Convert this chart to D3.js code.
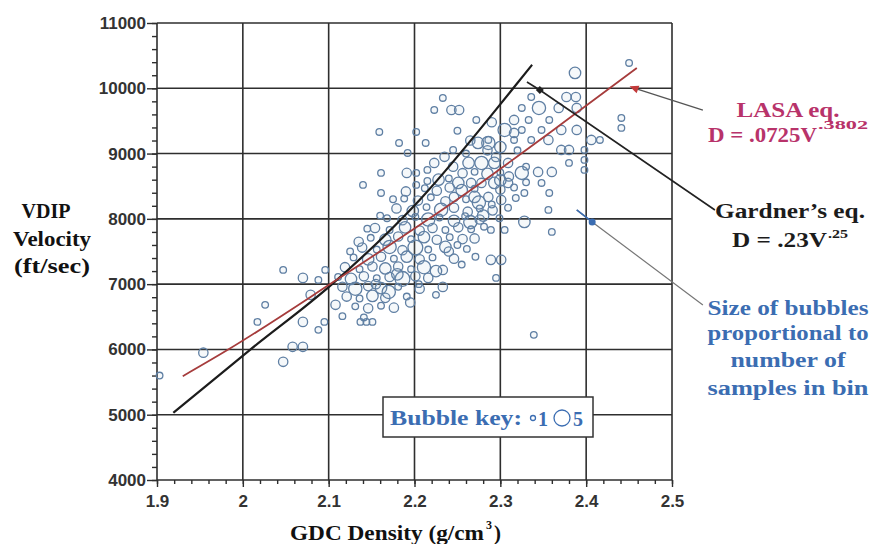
<!DOCTYPE html>
<html>
<head>
<meta charset="utf-8">
<script src="https://cdn.jsdelivr.net/npm/d3@7/dist/d3.min.js"></script>
<style>
  body { margin: 0; background: #fff; }
  svg { display: block; }
</style>
</head>
<body>
<div id="chart"></div>
<script>

// --- Axis ticks
var xTicks = [1.9, 2, 2.1, 2.2, 2.3, 2.4, 2.5];
var xTickLabels = ['1.9', '2', '2.1', '2.2', '2.3', '2.4', '2.5'];
var yTicks = [4000, 5000, 6000, 7000, 8000, 9000, 10000, 11000];
var yTickLabels = ['4000', '5000', '6000', '7000', '8000', '9000', '10000', '11000'];

// --- Fitted curves [density, velocity]
var gardnerLine = [[1.919, 5030], [2.008, 5990], [2.104, 7000], [2.206, 8290], [2.315, 10000], [2.337, 10360]];
var lasaLine = [[1.930, 5590], [1.982, 5990], [2.104, 7020], [2.261, 8400], [2.370, 9440], [2.459, 10310]];

// --- Leader lines of the notes [density, velocity]
var lasaLeader = [[2.456, 10004], [2.536, 9667]];
var gardnerLeader = [[2.331, 10096], [2.346, 9974], [2.550, 8136]];
var bubbleLeader = [[2.389, 8136], [2.407, 7952], [2.536, 6681]];

// --- Bubbles [density, velocity, samples in bin]
var scatterBubbles = [
  [1.903, 5600, 1], [1.954, 5950, 2], [2.026, 6683, 1], [2.017, 6422, 1], [2.047, 5810, 2],
  [2.058, 6040, 2], [2.070, 6040, 2], [2.047, 7218, 1], [2.070, 7096, 2], [2.088, 7065, 1],
  [2.096, 7218, 1], [2.079, 6836, 2], [2.108, 6683, 2], [2.070, 6422, 2], [2.088, 6300, 1],
  [2.095, 6422, 1], [2.137, 6422, 1], [2.144, 6422, 1], [2.151, 6422, 1],
  [2.233, 9852, 1], [2.223, 9668, 1], [2.243, 9668, 2], [2.252, 9668, 2], [2.159, 9331, 1],
  [2.202, 9331, 1], [2.182, 9163, 1], [2.192, 9010, 1], [2.213, 9163, 1], [2.223, 8857, 2],
  [2.161, 8704, 1], [2.191, 8704, 2], [2.202, 8704, 1], [2.140, 8520, 1], [2.161, 8397, 1],
  [2.202, 8520, 1], [2.245, 9056, 1], [2.272, 9515, 1], [2.387, 10235, 3], [2.450, 10388, 1],
  [2.336, 9867, 1], [2.345, 9699, 4], [2.368, 9699, 2], [2.377, 9867, 2], [2.388, 9867, 2],
  [2.325, 9699, 1], [2.389, 9699, 2], [2.357, 9515, 1], [2.316, 9515, 2], [2.333, 9515, 1],
  [2.305, 9362, 4], [2.325, 9362, 1], [2.348, 9362, 1], [2.371, 9362, 2], [2.389, 9362, 2],
  [2.406, 9209, 2], [2.416, 9209, 1], [2.441, 9546, 1], [2.441, 9393, 1], [2.286, 9209, 1],
  [2.316, 9209, 1], [2.336, 9209, 1], [2.356, 9209, 2], [2.371, 9056, 2], [2.380, 9056, 2],
  [2.398, 9056, 1], [2.380, 8857, 1], [2.398, 8903, 1], [2.398, 8750, 1], [2.344, 8719, 2],
  [2.360, 8719, 2], [2.348, 8550, 1], [2.357, 8397, 1], [2.325, 8704, 4], [2.328, 8397, 1],
  [2.274, 9163, 3], [2.286, 9163, 4], [2.316, 9316, 2], [2.295, 8948, 2], [2.263, 8857, 3],
  [2.278, 8857, 4], [2.293, 8857, 3], [2.309, 8857, 2], [2.251, 8550, 3], [2.266, 8550, 2],
  [2.278, 8550, 2], [2.293, 8550, 3], [2.309, 8550, 2], [2.246, 8336, 2], [2.270, 8336, 3],
  [2.286, 8336, 2], [2.328, 7953, 3], [2.360, 7800, 1], [2.289, 7831, 1], [2.305, 7831, 1],
  [2.289, 7372, 2], [2.301, 7372, 2], [2.295, 7096, 1], [2.339, 6223, 1], [2.356, 8137, 1],
  [2.233, 6958, 2], [2.225, 6836, 1], [2.216, 7096, 2], [2.233, 7218, 2],
  [2.256, 8700, 2], [2.270, 8720, 1], [2.285, 8690, 3], [2.300, 8710, 1], [2.240, 8620, 1],
  [2.310, 8650, 2], [2.265, 9200, 2], [2.300, 9100, 3], [2.320, 9050, 1], [2.255, 8440, 3],
  [2.270, 8460, 1], [2.300, 8450, 2], [2.316, 8480, 1], [2.330, 8560, 1]
];

var clusterBubbles = [
  [2.212, 8470, 1], [2.226, 8430, 2], [2.241, 8480, 2],
  [2.188, 8310, 1], [2.204, 8280, 2], [2.219, 8330, 1], [2.236, 8270, 2], [2.301, 8290, 2], [2.318, 8320, 1],
  [2.179, 8160, 2], [2.198, 8120, 3], [2.214, 8180, 1], [2.231, 8140, 4], [2.246, 8170, 2], [2.262, 8110, 2],
  [2.276, 8160, 1], [2.291, 8130, 2], [2.309, 8170, 1],
  [2.168, 8010, 1], [2.186, 7980, 2], [2.201, 8030, 1], [2.216, 7990, 4], [2.229, 8020, 1], [2.246, 7970, 3],
  [2.259, 8040, 1], [2.276, 7990, 2], [2.299, 8010, 1],
  [2.154, 7860, 2], [2.171, 7830, 1], [2.189, 7870, 3], [2.206, 7820, 2], [2.221, 7860, 2], [2.236, 7830, 1],
  [2.251, 7870, 2], [2.266, 7840, 1], [2.281, 7880, 1],
  [2.149, 7710, 1], [2.166, 7680, 3], [2.181, 7730, 2], [2.196, 7690, 1], [2.211, 7720, 3], [2.226, 7680, 2],
  [2.241, 7720, 1], [2.256, 7690, 2],
  [2.139, 7560, 2], [2.156, 7530, 1], [2.171, 7570, 4], [2.186, 7520, 2], [2.201, 7560, 5], [2.216, 7530, 1],
  [2.236, 7570, 3], [2.261, 7540, 1],
  [2.129, 7410, 1], [2.146, 7380, 3], [2.161, 7420, 2], [2.176, 7390, 1], [2.191, 7420, 3], [2.206, 7380, 2],
  [2.221, 7410, 1], [2.246, 7390, 2], [2.271, 7420, 1],
  [2.119, 7260, 2], [2.136, 7230, 1], [2.151, 7270, 2], [2.166, 7240, 3], [2.181, 7270, 2], [2.196, 7230, 1],
  [2.211, 7260, 4],
  [2.111, 7110, 1], [2.126, 7080, 3], [2.141, 7120, 2], [2.156, 7090, 1], [2.171, 7110, 2], [2.186, 7080, 5],
  [2.201, 7120, 2],
  [2.116, 6960, 2], [2.131, 6930, 4], [2.146, 6970, 2], [2.161, 6940, 3], [2.181, 6960, 1], [2.206, 6930, 2],
  [2.121, 6810, 2], [2.136, 6780, 1], [2.151, 6820, 3], [2.166, 6790, 2], [2.191, 6810, 1],
  [2.131, 6660, 1], [2.146, 6630, 2], [2.161, 6670, 1], [2.176, 6640, 2],
  [2.116, 6510, 1], [2.141, 6490, 1],
  [2.228, 8600, 3], [2.215, 8750, 1], [2.245, 8800, 2], [2.260, 9000, 1], [2.235, 8950, 2],
  [2.285, 9050, 2], [2.250, 9350, 1], [2.290, 9480, 2], [2.275, 8250, 4], [2.260, 8300, 1],
  [2.290, 8220, 1], [2.215, 8580, 1], [2.300, 8590, 3], [2.330, 8800, 1], [2.190, 8420, 2],
  [2.175, 8300, 1], [2.160, 8050, 1], [2.145, 7850, 1], [2.135, 7650, 2], [2.125, 7500, 1],
  [2.195, 6720, 2], [2.170, 6880, 4], [2.205, 7000, 1], [2.225, 7200, 3], [2.240, 7500, 2],
  [2.255, 7300, 1], [2.250, 7600, 1], [2.270, 7700, 2], [2.280, 8050, 3], [2.265, 7950, 4],
  [2.180, 7150, 3], [2.155, 7000, 2]
];

// --- Key
var keySamples = [1, 5];

var W = 870, H = 544;
var plotLeft = 157, plotRight = 672, plotTop = 23, plotBottom = 480;

var GRID = '#2e2e2e';
var RED = '#a63c3c';
var NOTE_RED = '#b8336a';
var BLUE = '#3b6db2';
var BUBBLE = '#5f7fa3';
var SERIF = '"Liberation Serif", "Times New Roman", Times, serif';
var SANS = '"Liberation Sans", Arial, sans-serif';

var svg = d3.select('#chart')
  .append('svg')
  .attr('width', W)
  .attr('height', H);

var x = d3.scaleLinear().domain([1.9, 2.5]).range([plotLeft, plotRight]);
var y = d3.scaleLinear().domain([4000, 11000]).range([plotBottom, plotTop]);
var r = d3.scaleSqrt().domain([0, 5]).range([0, 7.4]);

// --- Minor ticks (outside)
var yMinor = d3.range(4000, 11001, 200);
var xMinor = d3.range(0, 31).map(function(i){ return 1.9 + i * 0.02; });

var yAxisMinor = svg.append('g')
  .attr('transform', 'translate(' + plotLeft + ',0)')
  .call(d3.axisLeft(y).tickValues(yMinor).tickSize(5).tickFormat(''));
var xAxisMinor = svg.append('g')
  .attr('transform', 'translate(0,' + plotBottom + ')')
  .call(d3.axisBottom(x).tickValues(xMinor).tickSize(4).tickFormat(''));

var yAxis = svg.append('g')
  .attr('transform', 'translate(' + plotLeft + ',0)')
  .call(d3.axisLeft(y).tickValues(yTicks).tickSize(10).tickPadding(1)
    .tickFormat(function(d, i){ return yTickLabels[i]; }));
var xAxis = svg.append('g')
  .attr('transform', 'translate(0,' + plotBottom + ')')
  .call(d3.axisBottom(x).tickValues(xTicks).tickSize(7).tickPadding(8)
    .tickFormat(function(d, i){ return xTickLabels[i]; }));

[yAxisMinor, xAxisMinor, yAxis, xAxis].forEach(function(g){
  g.select('.domain').remove();
  g.selectAll('line').attr('stroke', GRID).attr('stroke-width', 1.4);
  g.selectAll('text')
    .attr('font-family', SANS)
    .attr('font-weight', 'bold')
    .attr('font-size', '17px')
    .attr('fill', '#333');
});

// --- Grid (also the frame)
var grid = svg.append('g').attr('stroke', GRID).attr('stroke-width', 1.6);
grid.selectAll('.vline').data(xTicks).enter()
  .append('line')
  .attr('class', 'vline')
  .attr('x1', function(d){ return x(d); })
  .attr('x2', function(d){ return x(d); })
  .attr('y1', y(4000))
  .attr('y2', y(11000));
grid.selectAll('.hline').data(yTicks).enter()
  .append('line')
  .attr('class', 'hline')
  .attr('x1', x(1.9))
  .attr('x2', x(2.5))
  .attr('y1', function(d){ return y(d); })
  .attr('y2', function(d){ return y(d); });

// --- Bubbles
var bubbles = scatterBubbles.concat(clusterBubbles);
svg.append('g').selectAll('circle').data(bubbles).enter()
  .append('circle')
  .attr('cx', function(d){ return x(d[0]); })
  .attr('cy', function(d){ return y(d[1]); })
  .attr('r', function(d){ return r(d[2]); })
  .attr('fill', 'rgba(160,185,210,0.10)')
  .attr('stroke', BUBBLE)
  .attr('stroke-width', 1.3);

// --- Curves
var line = d3.line()
  .x(function(d){ return x(d[0]); })
  .y(function(d){ return y(d[1]); })
  .curve(d3.curveMonotoneX);

svg.append('path').datum(gardnerLine)
  .attr('d', line)
  .attr('fill', 'none')
  .attr('stroke', '#1c1c1c')
  .attr('stroke-width', 2.2);

svg.append('path').datum(lasaLine)
  .attr('d', line)
  .attr('fill', 'none')
  .attr('stroke', RED)
  .attr('stroke-width', 1.8);

// --- Leaders
var straight = d3.line()
  .x(function(d){ return x(d[0]); })
  .y(function(d){ return y(d[1]); });

svg.append('path').datum(lasaLeader)
  .attr('d', straight).attr('fill', 'none')
  .attr('stroke', '#555').attr('stroke-width', 1.3);
svg.append('path').datum(gardnerLeader)
  .attr('d', straight).attr('fill', 'none')
  .attr('stroke', '#222').attr('stroke-width', 1.6);
svg.append('path').datum(bubbleLeader)
  .attr('d', straight).attr('fill', 'none')
  .attr('stroke', '#777').attr('stroke-width', 1.2);
svg.append('path').datum(bubbleLeader.slice(0, 2))
  .attr('d', straight).attr('fill', 'none')
  .attr('stroke', BLUE).attr('stroke-width', 1.6);

// markers at the leader anchors
svg.append('path')
  .attr('transform', 'translate(' + x(lasaLeader[0][0]) + ',' + y(lasaLeader[0][1]) + ') rotate(20)')
  .attr('d', 'M-5,0 L4,-4 L4,4 Z')
  .attr('fill', '#c23a3a');
svg.append('path')
  .attr('transform', 'translate(' + x(gardnerLeader[1][0]) + ',' + y(gardnerLeader[1][1]) + ')')
  .attr('d', 'M0,-4 L4,0 L0,4 L-4,0 Z')
  .attr('fill', '#222');
svg.append('circle')
  .attr('cx', x(bubbleLeader[1][0]))
  .attr('cy', y(bubbleLeader[1][1]))
  .attr('r', 3.5)
  .attr('fill', BLUE);

// --- Text helper
function addText(txt, px, py, opts) {
  var t = svg.append('text')
    .attr('x', px)
    .attr('y', py)
    .attr('font-family', opts.family || SERIF)
    .attr('font-weight', 'bold')
    .attr('font-size', opts.size + 'px')
    .attr('fill', opts.color || '#111')
    .attr('text-anchor', opts.anchor || 'start')
    .text(txt);
  if (opts.len) {
    t.attr('textLength', opts.len).attr('lengthAdjust', 'spacingAndGlyphs');
  }
  return t;
}

// --- Axis titles
addText('VDIP', 46, 218, {size: 20, anchor: 'middle', len: 49});
addText('Velocity', 52, 246, {size: 20, anchor: 'middle', len: 78});
addText('(ft/sec)', 52, 273, {size: 20, anchor: 'middle', len: 76});

addText('GDC Density (g/cm', 290, 540, {size: 21, len: 194});
addText('3', 486, 529, {size: 12});
addText(')', 494, 540, {size: 21});

// --- Notes
addText('LASA eq.', 788, 117, {size: 20, anchor: 'middle', color: NOTE_RED, len: 103});
addText('D = .0725V', 708, 142, {size: 20, color: NOTE_RED, len: 109});
addText('.3802', 818, 129, {size: 12, color: NOTE_RED, len: 50});

addText('Gardner\u2019s eq.', 790, 218, {size: 20, anchor: 'middle', color: '#1c1c1c', len: 150});
addText('D = .23V', 732, 247, {size: 20, color: '#1c1c1c', len: 95});
addText('.25', 828, 238, {size: 12, color: '#1c1c1c', len: 20});

addText('Size of bubbles', 788, 315, {size: 20, anchor: 'middle', color: BLUE, len: 161});
addText('proportional to', 788, 340, {size: 20, anchor: 'middle', color: BLUE, len: 161});
addText('number of', 788, 367, {size: 20, anchor: 'middle', color: BLUE, len: 115});
addText('samples in bin', 788, 395, {size: 20, anchor: 'middle', color: BLUE, len: 161});

// --- Bubble key
var key = svg.append('g');
key.append('rect')
  .attr('x', 383).attr('y', 397)
  .attr('width', 210).attr('height', 40)
  .attr('fill', '#fff')
  .attr('stroke', '#333')
  .attr('stroke-width', 1.5);
addText('Bubble key:', 390, 425, {size: 20, color: BLUE, len: 132});
key.selectAll('circle').data(keySamples).enter()
  .append('circle')
  .attr('cx', function(d, i){ return i === 0 ? 533 : 562; })
  .attr('cy', 418)
  .attr('r', function(d){ return d === 1 ? 2.5 : 8; })
  .attr('fill', 'none')
  .attr('stroke', BLUE)
  .attr('stroke-width', 1.3);
addText(String(keySamples[0]), 538, 426, {size: 20, color: BLUE});
addText(String(keySamples[1]), 573, 426, {size: 20, color: BLUE});

</script>
</body>
</html>
